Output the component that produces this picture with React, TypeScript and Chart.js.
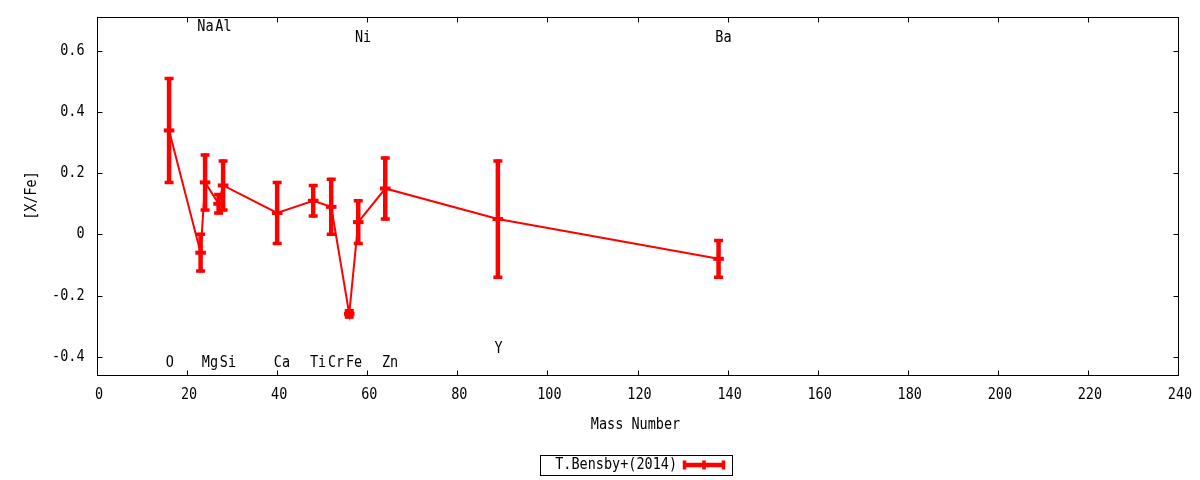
import React, { useEffect, useRef } from "react";
import { Chart, registerables } from "chart.js";

Chart.register(...registerables);

// ---- data ----
const elements = ["O", "Na", "Mg", "Al", "Si", "Ca", "Ti", "Cr", "Fe", "Ni", "Zn", "Y", "Ba"];
const massNumbers = [16, 23, 24, 27, 28, 40, 48, 52, 56, 58, 64, 89, 138];
const xFeValues = [0.34, -0.06, 0.17, 0.1, 0.16, 0.07, 0.11, 0.09, -0.26, 0.04, 0.15, 0.05, -0.08];
const xFeErrors = [0.17, 0.06, 0.09, 0.03, 0.08, 0.1, 0.05, 0.09, 0.01, 0.07, 0.1, 0.19, 0.06];
const labelYValues = [-0.42, 0.678, -0.42, 0.678, -0.42, -0.42, -0.42, -0.42, -0.42, 0.644, -0.42, -0.375, 0.644];

const xTicks = [0, 20, 40, 60, 80, 100, 120, 140, 160, 180, 200, 220, 240];
const xTickLabels = ["0", "20", "40", "60", "80", "100", "120", "140", "160", "180", "200", "220", "240"];
const yTicks = [-0.4, -0.2, 0, 0.2, 0.4, 0.6];
const yTickLabels = ["-0.4", "-0.2", "0", "0.2", "0.4", "0.6"];

const seriesName = "T.Bensby+(2014)";
const xTitle = "Mass Number";
const yTitle = "[X/Fe]";

const RED = "#ff0000";
const FONT = '15.5px "DejaVu Sans Mono"';
const SQUEEZE = 0.87;

function drawText(
  ctx: CanvasRenderingContext2D,
  text: string,
  x: number,
  y: number,
  align: CanvasTextAlign,
  rotate = 0
) {
  ctx.save();
  ctx.translate(x, y);
  if (rotate) ctx.rotate(rotate);
  ctx.scale(SQUEEZE, 1);
  ctx.font = FONT;
  ctx.fillStyle = "#000";
  ctx.textAlign = align;
  ctx.textBaseline = "middle";
  ctx.fillText(text, 0, 0);
  ctx.restore();
}

function drawErrBar(ctx: CanvasRenderingContext2D, px: number, pTop: number, pMid: number, pBot: number) {
  ctx.strokeStyle = RED;
  ctx.lineCap = "butt";
  ctx.lineWidth = 4.5;
  ctx.beginPath();
  ctx.moveTo(px, pTop - 1.5);
  ctx.lineTo(px, pBot + 1.5);
  ctx.stroke();
  ctx.lineWidth = 3.5;
  ctx.beginPath();
  for (const yy of [pTop, pBot]) {
    ctx.moveTo(px - 4.5, yy);
    ctx.lineTo(px + 4.5, yy);
  }
  ctx.stroke();
  ctx.lineWidth = 4;
  ctx.beginPath();
  ctx.moveTo(px - 5.3, pMid);
  ctx.lineTo(px + 5.3, pMid);
  ctx.stroke();
}

const gnuplotPlugin = {
  id: "gnuplotLike",
  afterDatasetsDraw(chart: any) {
    const ctx: CanvasRenderingContext2D = chart.ctx;
    const xs = chart.scales.x;
    const ys = chart.scales.y;
    const area = chart.chartArea;

    // error bars
    ctx.save();
    massNumbers.forEach((m, i) => {
      const px = xs.getPixelForValue(m);
      drawErrBar(
        ctx,
        px,
        ys.getPixelForValue(xFeValues[i] + xFeErrors[i]),
        ys.getPixelForValue(xFeValues[i]),
        ys.getPixelForValue(xFeValues[i] - xFeErrors[i])
      );
    });
    ctx.restore();

    // frame
    ctx.save();
    ctx.strokeStyle = "#000";
    ctx.lineWidth = 1;
    const L = Math.round(area.left) + 0.5;
    const R = Math.round(area.right) + 0.5;
    const T = Math.round(area.top) + 0.5;
    const B = Math.round(area.bottom) + 0.5;
    ctx.strokeRect(L, T, R - L, B - T);
    const tl = 5;
    ctx.beginPath();
    xTicks.forEach((v) => {
      const p = Math.round(xs.getPixelForValue(v)) + 0.5;
      ctx.moveTo(p, B);
      ctx.lineTo(p, B - tl);
      ctx.moveTo(p, T);
      ctx.lineTo(p, T + tl);
    });
    yTicks.forEach((v) => {
      const p = Math.round(ys.getPixelForValue(v)) + 0.5;
      ctx.moveTo(L, p);
      ctx.lineTo(L + tl, p);
      ctx.moveTo(R, p);
      ctx.lineTo(R - tl, p);
    });
    ctx.stroke();
    ctx.restore();

    // tick labels
    xTicks.forEach((v, i) => {
      drawText(ctx, xTickLabels[i], xs.getPixelForValue(v) + 2, area.bottom + 20, "center");
    });
    yTicks.forEach((v, i) => {
      drawText(ctx, yTickLabels[i], area.left - 12.5, ys.getPixelForValue(v), "right");
    });

    // axis titles
    drawText(ctx, xTitle, (area.left + area.right) / 2 - 2, area.bottom + 50, "center");
    drawText(ctx, yTitle, 31.5, (area.top + area.bottom) / 2 - 0.5, "center", -Math.PI / 2);

    // element labels
    elements.forEach((el, i) => {
      drawText(ctx, el, xs.getPixelForValue(massNumbers[i]) - 3.3, ys.getPixelForValue(labelYValues[i]), "left");
    });

    // legend
    ctx.save();
    ctx.strokeStyle = "#000";
    ctx.lineWidth = 1;
    ctx.strokeRect(540.5, 455.5, 192, 20);
    ctx.restore();
    drawText(ctx, seriesName, 677, 465, "right");
    ctx.save();
    ctx.strokeStyle = RED;
    ctx.lineWidth = 4.5;
    ctx.beginPath();
    ctx.moveTo(683, 465);
    ctx.lineTo(725, 465);
    ctx.stroke();
    ctx.lineWidth = 3.5;
    ctx.beginPath();
    for (const xx of [684.5, 704, 723.5]) {
      ctx.moveTo(xx, 460.5);
      ctx.lineTo(xx, 469.5);
    }
    ctx.stroke();
    ctx.restore();
  },
};

export default function App() {
  const canvasRef = useRef<HTMLCanvasElement | null>(null);

  useEffect(() => {
    if (!canvasRef.current) return;
    const chart = new Chart(canvasRef.current, {
      type: "line",
      data: {
        datasets: [
          {
            label: seriesName,
            data: massNumbers.map((m, i) => ({ x: m, y: xFeValues[i] })),
            borderColor: RED,
            backgroundColor: RED,
            borderWidth: 2,
            pointRadius: 0,
            tension: 0,
          },
        ],
      },
      options: {
        responsive: false,
        animation: false,
        layout: { padding: { left: 97, right: 22, top: 17, bottom: 105 } },
        plugins: { legend: { display: false }, tooltip: { enabled: false } },
        scales: {
          x: { type: "linear", min: 0, max: 240, display: false },
          y: { type: "linear", min: -0.46, max: 0.711, display: false },
        },
      },
      plugins: [gnuplotPlugin],
    });
    return () => chart.destroy();
  }, []);

  return (
    <div style={{ position: "fixed", left: 0, top: 0, width: 1200, height: 480, background: "#fff" }}>
      <canvas ref={canvasRef} width={1200} height={480} style={{ width: 1200, height: 480 }} />
    </div>
  );
}
